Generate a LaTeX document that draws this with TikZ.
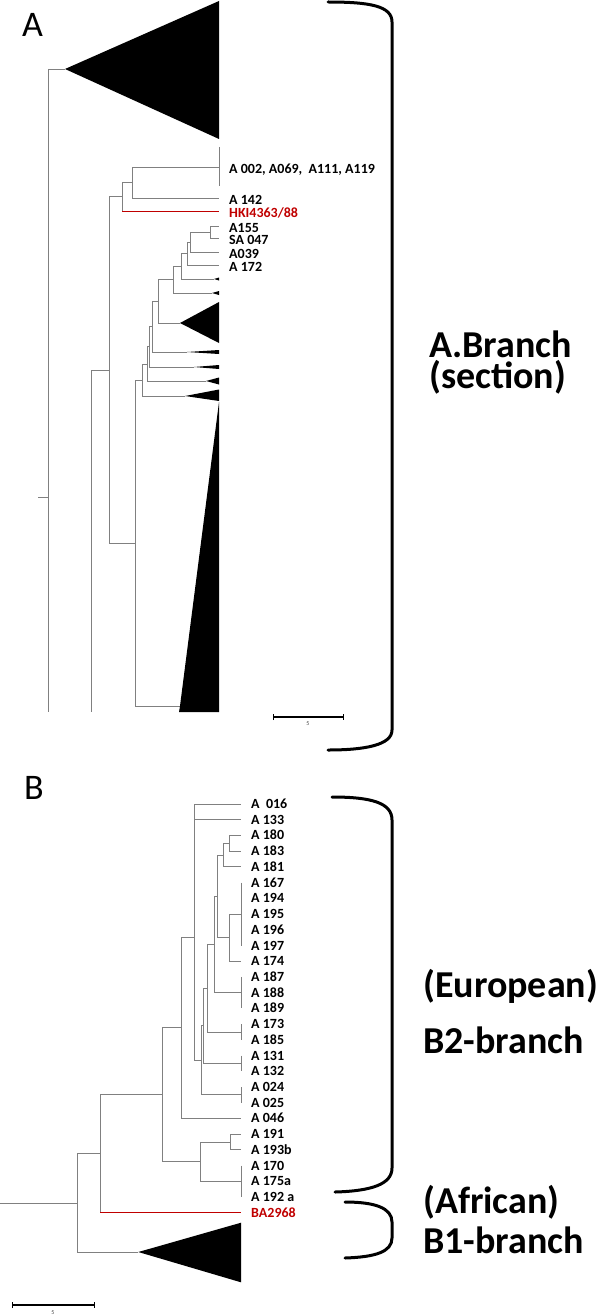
\documentclass[tikz,border=0pt]{standalone}
\usepackage{fontspec}
\setmainfont{Carlito}
\usetikzlibrary{arrows.meta}
\definecolor{rougeC}{HTML}{C00000}
\definecolor{grisB}{gray}{0.5}

\begin{document}
\begin{tikzpicture}[x=1pt,y=-1pt,
    branche/.style={draw=grisB, line width=0.9pt},
    rouge/.style={draw=rougeC, line width=1pt},
    feuille/.style={anchor=west, inner xsep=10pt, inner ysep=0pt, font=\bfseries\fontsize{14}{14}\selectfont, text height=9pt, text depth=0pt},
    feuilleA/.style={feuille, text height=13pt},
    grand/.style={anchor=base west, inner sep=0pt, align=left},
    lettre/.style={anchor=base west, inner sep=0pt, font=\fontsize{36}{36}\selectfont},
    echelle/.style={line width=1.4pt, {Bar[width=6pt]}-{Bar[width=6pt]}},
    accolade/.style={line width=3pt, line cap=round}]
    \useasboundingbox (0,0) rectangle (596,1316);

    % ---------------- Partie A ----------------
    \node[lettre] (lA) at (22,37) {A};

    % Racine et grand triangle du haut
    \coordinate (r0) at (38,497);
    \coordinate (a0) at (48,497);
    \coordinate (a0h) at (48,69);
    \coordinate (a0b) at (48,712);
    \coordinate (t0) at (65,69);
    \draw[branche] (r0) -- (a0);
    \draw[branche] (a0h) -- (a0b);
    \draw[branche] (a0h) -- (t0);
    \fill (t0) -- (219,1) -- (219,139) -- cycle;

    % Branche principale
    \coordinate (a91) at (91,370);
    \coordinate (a91b) at (91,712);
    \coordinate (a109) at (109,370);
    \coordinate (a122) at (122,196.5);
    \coordinate (a132) at (132,182.5);
    \coordinate (a135) at (135,543);
    \coordinate (k122) at (122,211);
    \draw[branche] (a91) -- (a91b);
    \draw[branche] (a91) -- (a109);
    \draw[branche] (a109) |- (a122);
    \draw[branche] (a109) |- (a135);
    \draw[branche] (a122) |- (a132);
    \draw[branche] (a122) -- (k122);

    % Feuilles du haut
    \node[feuilleA] (lgrp) at (219,167) {A 002, A069,~~A111, A119};
    \node[feuilleA] (l142) at (219,198) {A 142};
    \node[feuilleA, text=rougeC] (lHKI) at (219,211) {HKI4363/88};
    \coordinate (g0h) at (219,147);
    \coordinate (g0b) at (219,186);
    \draw[branche] (g0h) -- (g0b);
    \draw[branche] (a132) |- (lgrp);
    \draw[branche] (a132) |- (l142);
    \draw[rouge] (k122) -- (lHKI);

    % Sous-groupe A155 ... A 172
    \coordinate (a210) at (210,232);
    \coordinate (a190) at (190,242);
    \coordinate (a187) at (187,253.5);
    \coordinate (a181) at (181,266);
    \node[feuilleA] (l155) at (219,226) {A155};
    \node[feuilleA] (lSA) at (219,238) {SA 047};
    \node[feuilleA] (l039) at (219,252) {A039};
    \node[feuilleA] (l172) at (219,265) {A 172};
    \draw[branche] (a210) |- (l155);
    \draw[branche] (a210) |- (lSA);
    \draw[branche] (a190) |- (a210);
    \draw[branche] (a190) |- (l039);
    \draw[branche] (a187) |- (a190);
    \draw[branche] (a187) |- (l172);
    \draw[branche] (a181) |- (a187);

    % Petits triangles
    \coordinate (a173) at (173,279.5);
    \coordinate (a158) at (158,301);
    \coordinate (a152) at (152,326.5);
    \coordinate (a149) at (149,346.8);
    \coordinate (a147) at (147,364);
    \coordinate (a142) at (142,380);
    \coordinate (t1) at (214,279);
    \coordinate (t2) at (212,293);
    \coordinate (t3) at (180,323);
    \coordinate (t4) at (187,352);
    \coordinate (t5) at (194,367);
    \coordinate (t6) at (206,381);
    \coordinate (t7) at (185,396);
    \coordinate (t8) at (180,706);
    \draw[branche] (a181) |- (t1);
    \draw[branche] (a173) |- (a181);
    \draw[branche] (a173) |- (t2);
    \draw[branche] (a158) |- (a173);
    \draw[branche] (a158) |- (t3);
    \draw[branche] (a152) |- (a158);
    \draw[branche] (a152) |- (t4);
    \draw[branche] (a149) |- (a152);
    \draw[branche] (a149) |- (t5);
    \draw[branche] (a147) |- (a149);
    \draw[branche] (a147) |- (t6);
    \draw[branche] (a142) |- (a147);
    \draw[branche] (a142) |- (t7);
    \draw[branche] (a135) |- (a142);
    \draw[branche] (a135) |- (t8);
    \fill (t1) -- (219,277.5) -- (219,280.5) -- cycle;
    \fill (t2) -- (219,291) -- (219,295) -- cycle;
    \fill (t3) -- (219,302) -- (219,343) -- cycle;
    \fill (t4) -- (219,350) -- (219,354) -- cycle;
    \fill (t5) -- (219,365) -- (219,369) -- cycle;
    \fill (t6) -- (219,377.5) -- (219,384.5) -- cycle;
    \fill (t7) -- (219,389.5) -- (219,401) -- cycle;
    \fill (219,402) -- (t8) -- (179,712) -- (219,712) -- cycle;

    % Echelle A
    \coordinate (ea1) at (273,717);
    \coordinate (ea2) at (344,717);
    \draw[echelle] (ea1) -- (ea2);
    \node[font=\fontsize{6}{6}\selectfont, text=black!70] (e5a) at (308,724) {5};

    % Accolade A
    \draw[accolade] (328,2) .. controls (370,2) and (392,6) .. (392,22) -- (392,730) .. controls (392,745) and (365,750) .. (328,750);
    \node[grand, font=\bfseries\fontsize{38}{31}\selectfont] (tA) at (429,388) {A.Branch\\(section)};

    % ---------------- Partie B ----------------
    \node[lettre] (lB) at (24,799) {B};

    % Feuilles
    \node[feuille] (b016) at (241,804.0) {A~~016};
    \node[feuille] (b133) at (241,819.7) {A 133};
    \node[feuille] (b180) at (241,835.4) {A 180};
    \node[feuille] (b183) at (241,851.2) {A 183};
    \node[feuille] (b181) at (241,866.9) {A 181};
    \node[feuille] (b167) at (241,882.6) {A 167};
    \node[feuille] (b194) at (241,898.3) {A 194};
    \node[feuille] (b195) at (241,914.0) {A 195};
    \node[feuille] (b196) at (241,929.8) {A 196};
    \node[feuille] (b197) at (241,945.5) {A 197};
    \node[feuille] (b174) at (241,961.2) {A 174};
    \node[feuille] (b187) at (241,976.9) {A 187};
    \node[feuille] (b188) at (241,992.6) {A 188};
    \node[feuille] (b189) at (241,1008.4) {A 189};
    \node[feuille] (b173) at (241,1024.1) {A 173};
    \node[feuille] (b185) at (241,1039.8) {A 185};
    \node[feuille] (b131) at (241,1055.5) {A 131};
    \node[feuille] (b132) at (241,1071.2) {A 132};
    \node[feuille] (b024) at (241,1087.0) {A 024};
    \node[feuille] (b025) at (241,1102.7) {A 025};
    \node[feuille] (b046) at (241,1118.4) {A 046};
    \node[feuille] (b191) at (241,1134.1) {A 191};
    \node[feuille] (b193) at (241,1149.8) {A 193b};
    \node[feuille] (b170) at (241,1165.6) {A 170};
    \node[feuille] (b175) at (241,1181.3) {A 175a};
    \node[feuille] (b192) at (241,1197.0) {A 192 a};
    \node[feuille, text=rougeC] (bBA) at (241,1212.7) {BA2968};

    % Groupes de longueur nulle
    \coordinate (g1) at (241,914.0);
    \coordinate (g2) at (241,992.6);
    \coordinate (g3) at (241,1032.0);
    \coordinate (g4) at (241,1063.4);
    \coordinate (g5) at (241,1094.8);
    \coordinate (g6) at (241,1181.3);
    \draw[branche] (241,882.6) -- (241,945.5);
    \draw[branche] (241,976.9) -- (241,1008.4);
    \draw[branche] (241,1024.1) -- (241,1039.8);
    \draw[branche] (241,1055.5) -- (241,1071.2);
    \draw[branche] (241,1087.0) -- (241,1102.7);
    \draw[branche] (241,1165.6) -- (241,1197.0);

    % Noeuds internes
    \coordinate (n229a) at (229,843.3);
    \coordinate (n223) at (223,855.1);
    \coordinate (n229b) at (229,937.6);
    \coordinate (n217) at (217,896.4);
    \coordinate (n214) at (214,944.5);
    \coordinate (n207) at (207,988.2);
    \coordinate (n203) at (203.5,1025.8);
    \coordinate (n202) at (201.5,1060.3);
    \coordinate (n194) at (194,937);
    \coordinate (n181) at (181.3,1027.7);
    \coordinate (n230) at (230,1142);
    \coordinate (n201) at (200.7,1161.7);
    \coordinate (n163) at (162.7,1094.7);
    \coordinate (n100) at (100,1153.7);
    \coordinate (k100) at (100,1212.7);
    \coordinate (n78) at (77.7,1203);
    \coordinate (rB) at (0,1203);
    \coordinate (tB1) at (138.3,1252);

    \draw[branche] (n229a) |- (b180);
    \draw[branche] (n229a) |- (b183);
    \draw[branche] (n223) |- (n229a);
    \draw[branche] (n223) |- (b181);
    \draw[branche] (n229b) |- (g1);
    \draw[branche] (n229b) |- (b174);
    \draw[branche] (n217) |- (n223);
    \draw[branche] (n217) |- (n229b);
    \draw[branche] (n214) |- (n217);
    \draw[branche] (n214) |- (g2);
    \draw[branche] (n207) |- (n214);
    \draw[branche] (n207) |- (g3);
    \draw[branche] (n203) |- (n207);
    \draw[branche] (n203) |- (g4);
    \draw[branche] (n202) |- (n203);
    \draw[branche] (n202) |- (g5);
    \draw[branche] (n194) |- (b016);
    \draw[branche] (n194) |- (b133);
    \draw[branche] (n194) |- (n202);
    \draw[branche] (n181) |- (n194);
    \draw[branche] (n181) |- (b046);
    \draw[branche] (n230) |- (b191);
    \draw[branche] (n230) |- (b193);
    \draw[branche] (n201) |- (n230);
    \draw[branche] (n201) |- (g6);
    \draw[branche] (n163) |- (n181);
    \draw[branche] (n163) |- (n201);
    \draw[branche] (n100) |- (n163);
    \draw[branche] (n100) -- (k100);
    \draw[rouge] (k100) -- (bBA);
    \draw[branche] (n78) |- (n100);
    \draw[branche] (n78) |- (tB1);
    \draw[branche] (rB) -- (n78);
    \fill (tB1) -- (241,1222.7) -- (241,1282.3) -- cycle;

    % Echelle B
    \coordinate (eb1) at (11.7,1305);
    \coordinate (eb2) at (95,1305);
    \draw[echelle] (eb1) -- (eb2);
    \node[font=\fontsize{6}{6}\selectfont, text=black!70] (e5b) at (53,1313) {5};

    % Accolades B
    \draw[accolade] (332,797) .. controls (372,797) and (392,803) .. (392,820) -- (392,1168) .. controls (392,1184) and (372,1191) .. (335,1192);
    \draw[accolade] (345,1202) .. controls (375,1202) and (392,1208) .. (392,1222) -- (392,1238) .. controls (392,1252) and (375,1257) .. (345,1258);
    \node[grand, font=\bfseries\fontsize{38}{56}\selectfont] (tB2) at (423,1053) {(European)\\B2-branch};
    \node[grand, font=\bfseries\fontsize{38}{40}\selectfont] (tB1) at (423,1253) {(African)\\B1-branch};
\end{tikzpicture}
\end{document}
